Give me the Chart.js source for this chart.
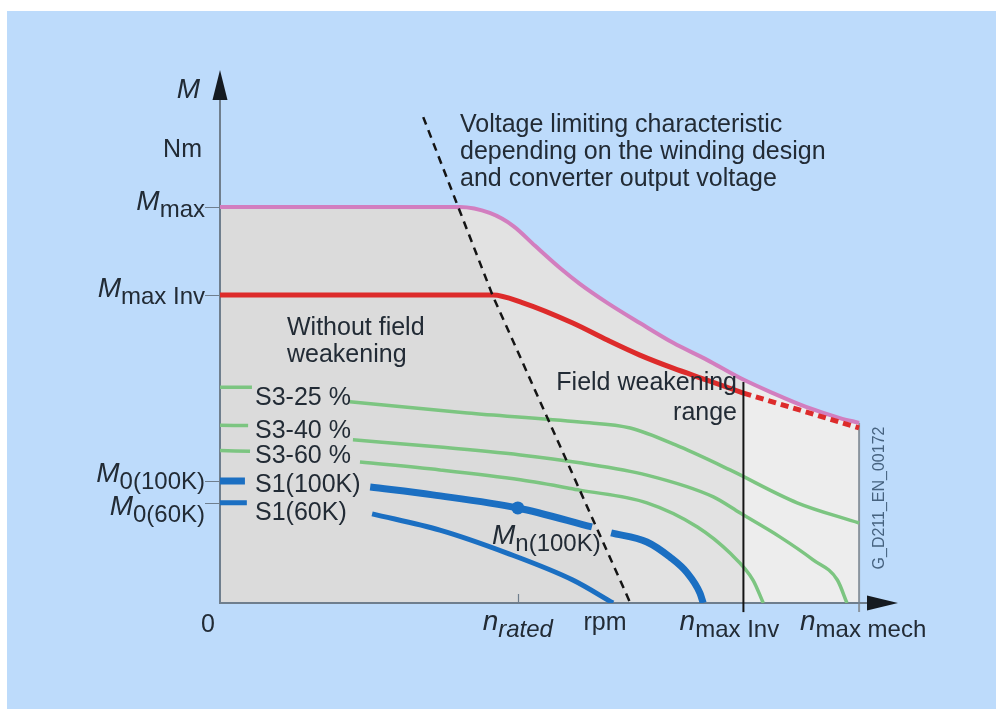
<!DOCTYPE html>
<html>
<head>
<meta charset="utf-8">
<script src="https://cdn.jsdelivr.net/npm/chart.js@4/dist/chart.umd.min.js"></script>
<style>
  html, body { margin: 0; padding: 0; background: #ffffff; }
  canvas { display: block; }
</style>
</head>
<body>
<canvas id="chart" width="996" height="709"></canvas>
<script>
// Speed in % of n_max mech, torque in % of M_max

// Characteristic speeds on the rpm axis: n_rated, n_max Inv, n_max mech
const speedMarks = [46.6, 81.9, 100];
const speedMarkLabels = [['n', 'rated'], ['n', 'max Inv'], ['n', 'max mech']];

// Characteristic torques on the M axis
const torqueMarks = [100, 77.8, 30.8, 25.3];
const torqueMarkLabels = [['M', 'max'], ['M', 'max Inv'], ['M', '0(100K)'], ['M', '0(60K)']];

// Maximum motor torque M_max
const mmaxSpeed  = [0, 37.5, 42.2, 45.9, 49.3, 53.2, 56.3, 60.6, 65.7, 70.9, 76.2, 81.4, 86.5, 91.7, 97.0, 100];
const mmaxTorque = [100, 100, 98.5, 95.2, 90.2, 84.6, 80.6, 75.8, 70.7, 65.7, 61.4, 56.8, 53.0, 49.5, 46.7, 45.5];

// Converter-limited torque M_max Inv (solid up to n_max Inv, dashed beyond)
const mmaxInvSpeed  = [0, 42.7, 47.4, 55.2, 60.6, 65.7, 70.9, 76.2, 81.9];
const mmaxInvTorque = [77.8, 77.8, 75.8, 70.7, 66.4, 62.6, 59.3, 56.3, 53.0];
const mmaxInvExtSpeed  = [81.9, 90.8, 100];
const mmaxInvExtTorque = [53.0, 48.7, 44.2];

// Intermittent duty curves S3 (null = break for the curve label)
const s3_25Speed  = [0, 5.0, 12, 20.3, 38.7, 56.3, 64.2, 72.0, 79.8, 90.3, 100];
const s3_25Torque = [54.5, 54.5, null, 50.8, 48.0, 45.7, 44.2, 39.4, 33.6, 25.3, 20.2];
const s3_40Speed  = [0, 4.4, 12, 20.8, 34.4, 47.0, 56.3, 66.8, 77.2, 81.4, 87.6, 92.8, 96.6, 98.1];
const s3_40Torque = [44.9, 44.8, null, 41.2, 39.4, 37.4, 35.4, 32.3, 26.8, 22.7, 16.7, 10.9, 5.8, 0];
const s3_60Speed  = [0, 4.7, 12, 21.9, 34.4, 47.0, 56.3, 66.8, 74.7, 79.8, 83.4, 85.0];
const s3_60Torque = [38.5, 38.3, null, 35.6, 33.6, 31.1, 28.5, 25.3, 19.2, 12.6, 5.8, 0];

// Continuous duty curves S1
const s1_100Speed  = [0, 3.9, 12, 23.5, 33.3, 46.6, 58.2, 59.7, 61.2, 66.8, 70.4, 73.1, 75.1, 75.6];
const s1_100Torque = [30.8, 30.8, null, 29.3, 27.3, 24.0, 19.2, null, 17.7, 15.4, 11.6, 7.6, 2.5, 0];
const s1_60Speed  = [0, 4.2, 12, 23.8, 34.4, 44.9, 55.2, 61.5];
const s1_60Torque = [25.3, 25.3, null, 22.5, 18.4, 12.6, 5.8, 0];

// Voltage limiting characteristic
const voltLimitSpeed  = [31.8, 42.7, 64.2];
const voltLimitTorque = [122.7, 77.5, 0];

// Top of the n_max Inv boundary line
const nMaxInvTop = [55.8];

const FONT = '"Liberation Sans", Arial, Helvetica, sans-serif';
const INK = '#222b35';
const AXIS = '#6f7e8d';

const pts = (xs, ys) => xs.map((x, i) => ({ x: x, y: ys[i] }));

function traceCurve(c, meta) {
  const p = meta.data;
  c.lineTo(p[0].x, p[0].y);
  for (let i = 1; i < p.length; i++) {
    const q = p[i - 1], r = p[i];
    if (q.cp2x !== undefined && r.cp1x !== undefined) {
      c.bezierCurveTo(q.cp2x, q.cp2y, r.cp1x, r.cp1y, r.x, r.y);
    } else {
      c.lineTo(r.x, r.y);
    }
  }
}

function drawRuns(c, runs, x, align) {
  let w = 0;
  runs.forEach(r => { c.font = r.font; r.w = c.measureText(r.text).width; w += r.w; });
  let cx = align === 'right' ? x - w : (align === 'center' ? x - w / 2 : x);
  runs.forEach(r => { c.font = r.font; c.fillText(r.text, cx, r.y); cx += r.w; });
}

const diagram = {
  id: 'diagram',
  beforeDraw(chart) {
    const c = chart.ctx;
    c.save();
    c.fillStyle = '#ffffff';
    c.fillRect(0, 0, chart.width, chart.height);
    c.fillStyle = '#bddbfb';
    c.fillRect(7, 11, chart.width - 7, chart.height - 11);
    c.restore();
  },
  beforeDatasetsDraw(chart) {
    const c = chart.ctx, xs = chart.scales.x, ys = chart.scales.y;
    const y0 = ys.getPixelForValue(0);
    const x0 = xs.getPixelForValue(0);
    const mmaxMeta = chart.getDatasetMeta(0);
    const last = mmaxMeta.data[mmaxMeta.data.length - 1];

    // operating area under M_max
    c.save();
    c.beginPath();
    c.moveTo(x0, y0);
    traceCurve(c, mmaxMeta);
    c.lineTo(last.x, y0);
    c.closePath();
    c.fillStyle = '#e2e2e2';
    c.fill();
    c.clip();

    // constant-flux range left of the voltage limit
    c.beginPath();
    c.moveTo(x0, ys.getPixelForValue(voltLimitTorque[0]));
    voltLimitSpeed.forEach((s, i) => c.lineTo(xs.getPixelForValue(s), ys.getPixelForValue(voltLimitTorque[i])));
    c.lineTo(x0, y0);
    c.closePath();
    c.fillStyle = '#dbdbdb';
    c.fill();

    // beyond n_max Inv
    const xi = xs.getPixelForValue(speedMarks[1]);
    c.fillStyle = '#ededed';
    c.fillRect(xi, ys.top, last.x - xi + 2, y0 - ys.top);
    c.restore();

    // right border of the area at n_max mech
    c.save();
    c.strokeStyle = '#8a949e';
    c.lineWidth = 2;
    c.beginPath();
    c.moveTo(last.x, last.y);
    c.lineTo(last.x, y0 + 9);
    c.stroke();

    // axes
    c.strokeStyle = AXIS;
    c.lineWidth = 2;
    c.beginPath();
    c.moveTo(x0, y0);
    c.lineTo(x0, ys.top + 28);
    c.moveTo(x0 - 1, y0);
    c.lineTo(xs.right - 30, y0);
    c.stroke();

    // arrow heads
    c.fillStyle = '#151a20';
    c.beginPath();
    c.moveTo(x0, ys.top);
    c.lineTo(x0 - 7.5, ys.top + 30);
    c.lineTo(x0 + 7.5, ys.top + 30);
    c.closePath();
    c.fill();
    c.beginPath();
    c.moveTo(xs.right - 2, y0);
    c.lineTo(xs.right - 33, y0 - 7.5);
    c.lineTo(xs.right - 33, y0 + 7.5);
    c.closePath();
    c.fill();

    // torque ticks
    c.strokeStyle = AXIS;
    c.lineWidth = 1.2;
    c.beginPath();
    torqueMarks.forEach(t => {
      const y = Math.round(ys.getPixelForValue(t)) + 0.5;
      c.moveTo(x0 - 15, y);
      c.lineTo(x0, y);
    });
    // n_rated tick
    const xr = Math.round(xs.getPixelForValue(speedMarks[0])) + 0.5;
    c.moveTo(xr, y0 - 9);
    c.lineTo(xr, y0);
    c.stroke();
    c.restore();
  },
  afterDatasetsDraw(chart) {
    const c = chart.ctx, xs = chart.scales.x, ys = chart.scales.y;
    const x0 = xs.getPixelForValue(0);
    const y0 = ys.getPixelForValue(0);
    const sym = 'italic 28px ' + FONT;
    const txt = '25px ' + FONT;
    const sub = '24px ' + FONT;

    c.save();
    c.fillStyle = INK;
    c.textBaseline = 'alphabetic';
    c.textAlign = 'left';

    // axis titles
    drawRuns(c, [{ text: 'M', font: sym, y: 98 }], x0 - 20, 'right');
    drawRuns(c, [{ text: 'Nm', font: txt, y: 157 }], x0 - 18, 'right');
    drawRuns(c, [{ text: '0', font: txt, y: 632 }], x0 - 12, 'center');
    drawRuns(c, [{ text: 'rpm', font: txt, y: 630 }], 605, 'center');

    // torque mark labels
    const mDy = [3, 2, 1, 12];
    torqueMarkLabels.forEach((lab, i) => {
      const y = ys.getPixelForValue(torqueMarks[i]);
      drawRuns(c, [
        { text: lab[0], font: sym, y: y + mDy[i] },
        { text: lab[1], font: sub, y: y + mDy[i] + 7 }
      ], x0 - 15, 'right');
    });

    // speed mark labels
    const nDx = [0, -14, 4];
    speedMarkLabels.forEach((lab, i) => {
      const x = xs.getPixelForValue(speedMarks[i]) + nDx[i];
      drawRuns(c, [
        { text: lab[0], font: sym, y: y0 + 27 },
        { text: lab[1], font: i === 0 ? 'italic 24px ' + FONT : sub, y: y0 + 34 }
      ], x, 'center');
    });

    // annotations
    c.font = txt;
    ['Voltage limiting characteristic', 'depending on the winding design', 'and converter output voltage']
      .forEach((s, i) => c.fillText(s, 460, 132 + i * 27));
    c.fillText('Without field', 287, 335);
    c.fillText('weakening', 287, 362);
    c.textAlign = 'right';
    c.fillText('Field weakening', 737, 390);
    c.fillText('range', 737, 420);
    c.textAlign = 'left';

    // curve labels
    const curveLabels = ['S3-25 %', 'S3-40 %', 'S3-60 %', 'S1(100K)', 'S1(60K)'];
    const curveBase = [405, 438, 463, 492, 520];
    curveLabels.forEach((s, i) => c.fillText(s, 255, curveBase[i]));

    // rated torque label
    drawRuns(c, [
      { text: 'M', font: sym, y: 544 },
      { text: 'n(100K)', font: sub, y: 551 }
    ], 492, 'left');

    // drawing number
    c.translate(884, 498);
    c.rotate(-Math.PI / 2);
    c.fillStyle = '#46627f';
    c.font = '16px ' + FONT;
    c.textAlign = 'center';
    c.fillText('G_D211_EN_00172', 0, 0);
    c.restore();
  }
};

const base = { pointRadius: 0, fill: false, cubicInterpolationMode: 'monotone', spanGaps: false };

new Chart(document.getElementById('chart'), {
  type: 'line',
  data: {
    datasets: [
      Object.assign({}, base, { label: 'M max', data: pts(mmaxSpeed, mmaxTorque), borderColor: '#d27ebf', borderWidth: 4, order: 5 }),
      Object.assign({}, base, { label: 'M max Inv', data: pts(mmaxInvSpeed, mmaxInvTorque), borderColor: '#dd2b2b', borderWidth: 5, order: 4 }),
      Object.assign({}, base, { label: 'M max Inv (beyond n max Inv)', data: pts(mmaxInvExtSpeed, mmaxInvExtTorque), borderColor: '#dd2b2b', borderWidth: 5, borderDash: [8, 5], order: 4 }),
      Object.assign({}, base, { label: 'S3-25 %', data: pts(s3_25Speed, s3_25Torque), borderColor: '#7cc581', borderWidth: 3.5, order: 6 }),
      Object.assign({}, base, { label: 'S3-40 %', data: pts(s3_40Speed, s3_40Torque), borderColor: '#7cc581', borderWidth: 3.5, order: 6 }),
      Object.assign({}, base, { label: 'S3-60 %', data: pts(s3_60Speed, s3_60Torque), borderColor: '#7cc581', borderWidth: 3.5, order: 6 }),
      Object.assign({}, base, {
        label: 'S1(100K)', data: pts(s1_100Speed, s1_100Torque), borderColor: '#1b6fc2', borderWidth: 7, order: 3,
        pointRadius: ctx => (ctx.raw && ctx.raw.x === speedMarks[0] ? 6.5 : 0),
        pointBackgroundColor: '#1b6fc2', pointBorderWidth: 0
      }),
      Object.assign({}, base, { label: 'S1(60K)', data: pts(s1_60Speed, s1_60Torque), borderColor: '#1b6fc2', borderWidth: 5, order: 3 }),
      Object.assign({}, base, { label: 'Voltage limit', data: pts(voltLimitSpeed, voltLimitTorque), borderColor: '#141414', borderWidth: 2.5, borderDash: [8, 6], cubicInterpolationMode: 'default', tension: 0, order: 2 }),
      Object.assign({}, base, { label: 'n max Inv', data: [{ x: speedMarks[1], y: -2.3 }, { x: speedMarks[1], y: nMaxInvTop[0] }], borderColor: '#141414', borderWidth: 2, cubicInterpolationMode: 'default', tension: 0, clip: false, order: 2 })
    ]
  },
  options: {
    responsive: false,
    animation: false,
    events: [],
    layout: { padding: { left: 220, right: 96, top: 70, bottom: 106 } },
    scales: {
      x: { type: 'linear', min: 0, max: 106.4, display: false },
      y: { type: 'linear', min: 0, max: 134.6, display: false }
    },
    plugins: { legend: { display: false }, tooltip: { enabled: false } }
  },
  plugins: [diagram]
});
</script>
</body>
</html>
